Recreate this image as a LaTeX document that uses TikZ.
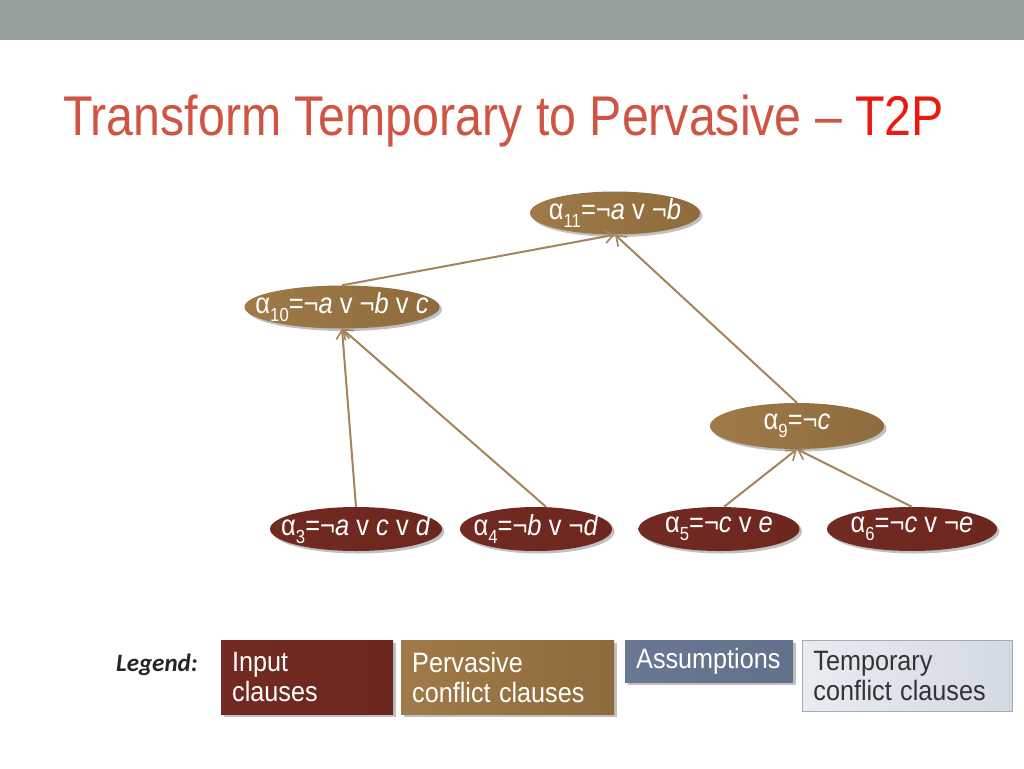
\documentclass[tikz,border=0pt]{standalone}
\usepackage{fontspec}
\setmainfont{Liberation Sans}
\newfontfamily\legfont{Carlito}
\usetikzlibrary{shapes.geometric,shadows,arrows.meta}
\definecolor{barc}{HTML}{939F98}
\definecolor{titlec}{HTML}{CF5443}
\definecolor{tred}{HTML}{EA1A10}
\definecolor{pervL}{HTML}{A07A48}
\definecolor{pervM}{HTML}{B38E5C}
\definecolor{pervR}{HTML}{8E6B3D}
\definecolor{inL}{HTML}{722A22}
\definecolor{inM}{HTML}{88392E}
\definecolor{inR}{HTML}{6C271F}
\definecolor{asL}{HTML}{687892}
\definecolor{asM}{HTML}{7D8CA4}
\definecolor{asR}{HTML}{63728B}
\definecolor{tmL}{HTML}{E9ECF1}
\definecolor{tmR}{HTML}{D3D9E3}
\definecolor{tmB}{HTML}{A3ABB6}
\definecolor{edgec}{HTML}{A3845C}
\newcommand\sbs[1]{\raisebox{-0.28em}{\fontsize{19}{19}\selectfont #1}}
\newcommand\nt[1]{\scalebox{0.88}[1]{#1}}
\newcommand\lt[1]{\scalebox{0.9}[1]{#1}}
\tikzset{
  x=1pt, y=-1pt,
  shadowed/.style={drop shadow={opacity=0.35, shadow xshift=2.5pt, shadow yshift=-2.5pt, fill=black!70}},
  pell/.style={ellipse, inner xsep=-60pt, inner ysep=-12pt, shadowed, left color=pervL, middle color=pervM, right color=pervR, text=white, font=\fontsize{29}{30}\selectfont},
  iell/.style={ellipse, inner xsep=-60pt, inner ysep=-12pt, shadowed, left color=inL, middle color=inM, right color=inR, text=white, font=\fontsize{29}{30}\selectfont, minimum height=44pt},
  arr/.style={draw=edgec, line width=2pt, -{Straight Barb[length=9pt,width=13pt,line width=1.6pt]}},
  legbox/.style={rectangle, anchor=north west, inner xsep=11pt, inner ysep=0pt, align=left, font=\fontsize{28}{30}\selectfont},
}
\begin{document}
\begin{tikzpicture}
\useasboundingbox (0,0) rectangle (1024,768);
\fill[white] (0,0) rectangle (1024,768);
\fill[barc] (0,0) rectangle (1024,40);
\node[anchor=base west, inner sep=0pt, text=titlec, font=\fontsize{56}{60}\selectfont] (title) at (63,135) {\scalebox{0.862}[1]{Transform Temporary to Pervasive -- \textcolor{tred}{T2P}}};

\node[pell, minimum width=170pt, minimum height=43pt] (a11) at (615,213) {\nt{α\sbs{11}=¬\textit{a} v ¬\textit{b}}};
\node[pell, minimum width=195pt, minimum height=43pt] (a10) at (342,307) {\nt{α\sbs{10}=¬\textit{a} v ¬\textit{b} v \textit{c}}};
\node[pell, minimum width=174pt, minimum height=46pt] (a9) at (797,426) {\nt{α\sbs{9}=¬\textit{c}}};

\node[iell, minimum width=172pt] (a3) at (356,529) {\nt{α\sbs{3}=¬\textit{a} v \textit{c} v \textit{d}}};
\node[iell, minimum width=152pt] (a4) at (536,529) {\nt{α\sbs{4}=¬\textit{b} v ¬\textit{d}}};
\node[iell, minimum width=161pt] (a5) at (719,529) {\nt{α\sbs{5}=¬\textit{c} v \textit{e}}};
\node[iell, minimum width=170pt] (a6) at (912,529) {\nt{α\sbs{6}=¬\textit{c} v ¬\textit{e}}};

\draw[arr] (a10.north) -- (a11.south);
\draw[arr] (a9.north) -- (a11.south);
\draw[arr] (a3.north) -- (a10.south);
\draw[arr] ([xshift=10pt]a4.north) -- (a10.south);
\draw[arr] ([xshift=5pt]a5.north) -- (a9.south);
\draw[arr] (a6.north) -- (a9.south);

\node[anchor=base east, inner sep=0pt, font=\legfont\bfseries\itshape\fontsize{25}{25}\selectfont, text=black!85] (leg) at (198,671) {Legend:};
\node[legbox, shadowed, left color=inL, middle color=inM, right color=inR, text=white, minimum width=172pt, minimum height=74pt, text width=150pt] (bin) at (221,640) {\lt{Input}\\\lt{clauses}};
\node[legbox, shadowed, left color=pervL, middle color=pervM, right color=pervR, text=white, minimum width=213pt, minimum height=74pt, text width=191pt] (bpv) at (401,640) {\lt{Pervasive}\\\lt{conflict clauses}};
\node[legbox, shadowed, left color=asL, middle color=asM, right color=asR, text=white, minimum width=168pt, minimum height=42pt, text width=146pt] (bas) at (625,640) {\lt{Assumptions}};
\node[legbox, draw=tmB, line width=0.8pt, left color=tmL, right color=tmR, text=black!80, minimum width=210pt, minimum height=71pt, text width=188pt] (btm) at (802,640) {\lt{Temporary}\\\lt{conflict clauses}};
\end{tikzpicture}
\end{document}
